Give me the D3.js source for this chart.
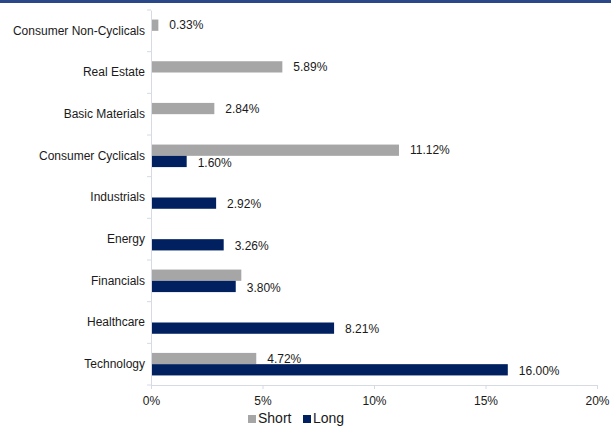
<!DOCTYPE html>
<html>
<head>
	<title>sector exposure</title>
	<script src="https://cdn.jsdelivr.net/npm/d3@7"></script>
</head>
<style type="text/css">
	body { margin: 0; background: #fff; }
	text { font-family: "Liberation Sans", Arial, sans-serif; fill: #1a1a1a; }
</style>
<body>
</body>
</html>
<script type="text/javascript">
	var width = 611;
	var height = 430;

	// data, top to bottom
	var categories = ["Consumer Non-Cyclicals", "Real Estate", "Basic Materials", "Consumer Cyclicals",
		"Industrials", "Energy", "Financials", "Healthcare", "Technology"];
	var shortValues = [0.33, 5.89, 2.84, 11.12, null, null, 4.05, null, 4.72];
	var longValues = [null, null, null, 1.60, 2.92, 3.26, 3.80, 8.21, 16.00];
	var shortLabelShown = [true, true, true, true, false, false, false, false, true];
	var xTicks = [0, 5, 10, 15, 20];
	var seriesNames = ["Short", "Long"];
	var seriesColors = ["#a6a6a6", "#002060"];

	var margin = {top: 10, left: 151, right: 14, bottom: 45};

	var svg = d3.select("body").append("svg").attr("width", width).attr("height", height);

	// dark band across the top
	svg.append("rect").attr("x", 0).attr("y", 0).attr("width", width).attr("height", 3).attr("fill", "#2a4888");

	var x = d3.scaleLinear().domain([0, 20]).range([margin.left, width - margin.right]);
	var y = d3.scaleBand().domain(categories).range([margin.top, height - margin.bottom]);
	var inner = d3.scaleBand().domain(seriesNames).range([0, y.bandwidth()]).paddingOuter(0.85);

	var rows = categories.map(function(c, i) {
		return {cat: c, vals: [shortValues[i], longValues[i]], showShort: shortLabelShown[i]};
	});

	var g = svg.selectAll(".row").data(rows).enter().append("g")
		.attr("class", "row")
		.attr("transform", function(d) { return "translate(0," + y(d.cat) + ")"; });

	g.selectAll("rect")
		.data(function(d) {
			return d.vals.map(function(v, j) { return {s: seriesNames[j], v: v, j: j, show: j == 1 || d.showShort}; })
				.filter(function(e) { return e.v != null; });
		})
		.enter().append("rect")
		.attr("x", x(0))
		.attr("y", function(d) { return inner(d.s); })
		.attr("width", function(d) { return x(d.v) - x(0); })
		.attr("height", inner.bandwidth())
		.attr("fill", function(d) { return seriesColors[d.j]; });

	g.selectAll("text.val")
		.data(function(d) {
			return d.vals.map(function(v, j) { return {s: seriesNames[j], v: v, j: j, show: j == 1 || d.showShort}; })
				.filter(function(e) { return e.v != null && e.show; });
		})
		.enter().append("text")
		.attr("class", "val")
		.attr("x", function(d) { return x(d.v) + 11; })
		.attr("y", function(d) { return inner(d.s) + inner.bandwidth() / 2 + (d.j == 0 ? 0 : 1); })
		.attr("dy", "0.35em")
		.style("font-size", "12px")
		.text(function(d) { return d.v.toFixed(2) + "%"; });

	// category axis
	var yAxis = svg.append("g").attr("transform", "translate(" + margin.left + ",0)")
		.call(d3.axisLeft(y).tickSize(0).tickPadding(6));
	yAxis.select(".domain").attr("stroke", "#d5dae3");
	yAxis.selectAll("text").style("font-size", "12px").attr("fill", "#1a1a1a");
	// tick marks sit between the categories
	yAxis.selectAll(".bound").data(d3.range(categories.length + 1)).enter().append("line")
		.attr("class", "bound")
		.attr("x1", -4).attr("x2", 0)
		.attr("y1", function(i) { return margin.top + i * y.step(); })
		.attr("y2", function(i) { return margin.top + i * y.step(); })
		.attr("stroke", "#d5dae3");

	// value axis
	var xAxis = svg.append("g").attr("transform", "translate(0," + (height - margin.bottom) + ")")
		.call(d3.axisBottom(x).tickValues(xTicks).tickSize(4).tickPadding(7).tickFormat(function(d) { return d + "%"; }));
	xAxis.select(".domain").attr("stroke", "#d5dae3");
	xAxis.selectAll("line").attr("stroke", "#d5dae3");
	xAxis.selectAll("text").style("font-size", "12px").attr("fill", "#1a1a1a");

	// legend
	var legend = svg.append("g").attr("transform", "translate(248,423)");
	var lx = [0, 55];
	seriesNames.forEach(function(s, i) {
		legend.append("rect").attr("x", lx[i]).attr("y", -8).attr("width", 8).attr("height", 8).attr("fill", seriesColors[i]);
		legend.append("text").attr("x", lx[i] + 10).attr("y", 0).style("font-size", "14px").text(s);
	});
</script>
